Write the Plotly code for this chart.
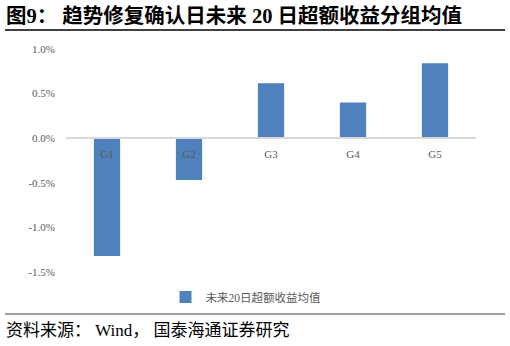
import plotly.graph_objects as go

categories = ["G1", "G2", "G3", "G4", "G5"]
values = [-1.32, -0.47, 0.616, 0.40, 0.84]
tick_vals = [-1.5, -1.0, -0.5, 0.0, 0.5, 1.0]
tick_text = ["-1.5%", "-1.0%", "-0.5%", "0.0%", "0.5%", "1.0%"]
series_name = "未来20日超额收益均值"
title_text = "图9： 趋势修复确认日未来 20 日超额收益分组均值"
source_text = "资料来源： Wind， 国泰海通证券研究"

W, H = 510, 346
ml, mr, mt, mb = 66, 34, 49, 74

def px_x(px):
    return (px - ml) / (W - ml - mr)

def px_y(py):
    return 1 - (py - mt) / (H - mt - mb)

fig = go.Figure()
fig.add_trace(go.Bar(
    x=categories, y=values, name=series_name,
    marker=dict(color="#4F81BD", line=dict(width=0)),
    width=0.32, showlegend=True,
))

ymin, ymax = -1.5, 1.0
fig.update_layout(
    width=W, height=H,
    margin=dict(l=ml, r=mr, t=mt, b=mb),
    paper_bgcolor="white", plot_bgcolor="white",
    font=dict(family="Liberation Serif, Noto Sans CJK SC", color="#595959", size=11),
    xaxis=dict(
        type="category", showgrid=False, showline=True, linecolor="#D9D9D9", linewidth=1.5,
        ticks="", anchor="free", position=(0 - ymin) / (ymax - ymin),
        tickfont=dict(family="Liberation Serif", size=11, color="#595959"),
        ticklabelstandoff=6,
        zeroline=False, fixedrange=True,
    ),
    yaxis=dict(
        range=[ymin, ymax], tickvals=tick_vals, ticktext=tick_text,
        showgrid=False, zeroline=False, showline=False, ticks="",
        tickfont=dict(family="Liberation Serif", size=11, color="#595959"),
        ticklabelstandoff=10,
    ),
    legend=dict(
        orientation="h", x=px_x(246), xanchor="center", y=px_y(297), yanchor="middle",
        font=dict(family="Liberation Serif, Noto Sans CJK SC", size=11.5, color="#595959"),
        itemwidth=30,
    ),
)

fig.add_annotation(
    text="<b>" + title_text + "</b>", xref="paper", yref="paper",
    x=px_x(4), y=px_y(16),
    xanchor="left", yanchor="middle", showarrow=False,
    font=dict(family="Liberation Serif, Noto Sans CJK SC", size=20.5, color="black"),
)
fig.add_annotation(
    text=source_text, xref="paper", yref="paper",
    x=px_x(4), y=px_y(330),
    xanchor="left", yanchor="middle", showarrow=False,
    font=dict(family="Liberation Serif, Noto Sans CJK SC", size=17, color="black"),
)

fig.add_shape(type="line", xref="paper", yref="paper",
              x0=px_x(5), x1=px_x(505), y0=px_y(30), y1=px_y(30),
              line=dict(color="black", width=1.5))
fig.add_shape(type="line", xref="paper", yref="paper",
              x0=px_x(5), x1=px_x(505), y0=px_y(314), y1=px_y(314),
              line=dict(color="#7F7F7F", width=1.5))

fig.write_html("out.html")
